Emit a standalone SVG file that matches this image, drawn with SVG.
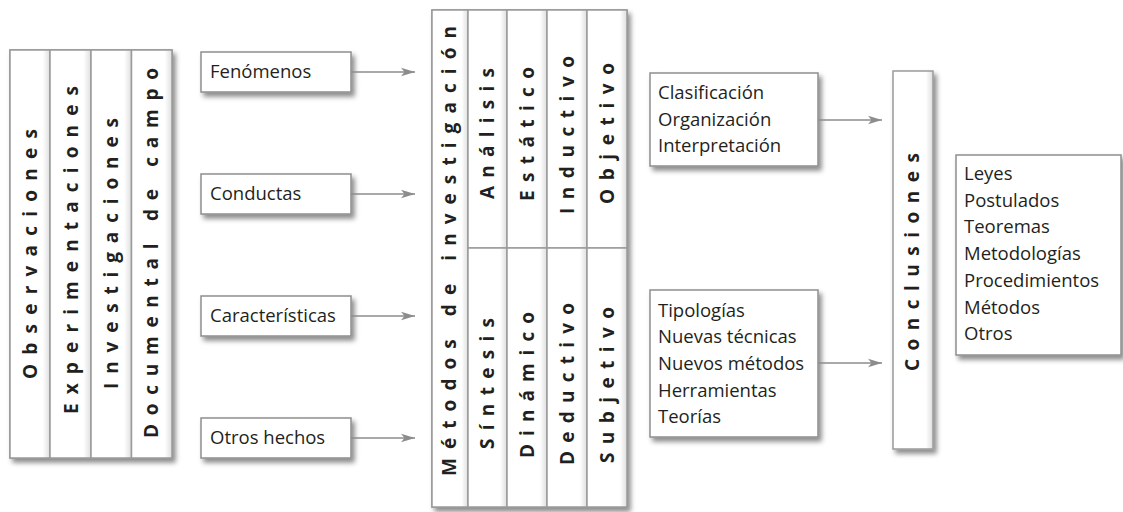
<svg xmlns="http://www.w3.org/2000/svg" width="1123" height="512" viewBox="0 0 1123 512">
<defs>
  <filter id="sh" x="-20%" y="-20%" width="150%" height="150%">
    <feDropShadow dx="3" dy="4" stdDeviation="2.5" flood-color="#000" flood-opacity="0.45"/>
  </filter>
  <linearGradient id="colg" x1="0" y1="0" x2="1" y2="0">
    <stop offset="0" stop-color="#ffffff"/>
    <stop offset="0.82" stop-color="#ffffff"/>
    <stop offset="1" stop-color="#dedede"/>
  </linearGradient>
  <marker id="ah" markerUnits="userSpaceOnUse" markerWidth="14" markerHeight="10" refX="14" refY="5" orient="auto">
    <path d="M0,0.8 L14,5 L0,9.2 L3.5,5 Z" fill="#8c8c8c"/>
  </marker>
</defs>
<style>
  .box { fill: #ffffff; stroke: #8e8e8e; stroke-width: 1.5; }
  .col { fill: url(#colg); stroke: #9a9a9a; stroke-width: 1.5; }
  .v { font-family: "Open Sans", "Liberation Sans", sans-serif; font-weight: 700; font-size: 19px; fill: #231f20; }
  .t { font-family: "Open Sans", "Liberation Sans", sans-serif; font-size: 18.5px; fill: #231f20; }
  .con line { stroke: #8c8c8c; stroke-width: 1.6; marker-end: url(#ah); }
</style>
<rect width="1123" height="512" fill="#ffffff"/>

<g id="fuentes">
  <g filter="url(#sh)">
    <rect class="box" x="10" y="50" width="162" height="408"/>
  </g>
  <rect class="col" x="10" y="50" width="40" height="408"/>
  <rect class="col" x="50" y="50" width="41" height="408"/>
  <rect class="col" x="91" y="50" width="40.5" height="408"/>
  <rect class="col" x="131.5" y="50" width="40.5" height="408"/>
  <text class="v" transform="translate(37,379) rotate(-90)" textLength="250" lengthAdjust="spacing">Observaciones</text>
  <text class="v" transform="translate(77.5,414) rotate(-90)" textLength="328" lengthAdjust="spacing">Experimentaciones</text>
  <text class="v" transform="translate(117.5,389) rotate(-90)" textLength="271" lengthAdjust="spacing">Investigaciones</text>
  <text class="v" transform="translate(157.5,438) rotate(-90)" textLength="370" lengthAdjust="spacing">Documental de campo</text>
</g>

<g id="fenomenos">
  <rect class="box" x="201" y="52" width="150" height="40" filter="url(#sh)"/>
  <text class="t" x="210" y="78">Fenómenos</text>
</g>
<g id="conductas">
  <rect class="box" x="201" y="174" width="150" height="40" filter="url(#sh)"/>
  <text class="t" x="210" y="200">Conductas</text>
</g>
<g id="caracteristicas">
  <rect class="box" x="201" y="296" width="150" height="40" filter="url(#sh)"/>
  <text class="t" x="210" y="322">Características</text>
</g>
<g id="otros-hechos">
  <rect class="box" x="201" y="418" width="150" height="40" filter="url(#sh)"/>
  <text class="t" x="210" y="444">Otros hechos</text>
</g>

<g id="metodos">
  <g filter="url(#sh)">
    <rect class="box" x="432" y="10" width="195" height="497"/>
  </g>
  <rect class="col" x="432" y="10" width="36" height="497"/>
  <rect class="col" x="468" y="10" width="39" height="238"/>
  <rect class="col" x="507" y="10" width="40" height="238"/>
  <rect class="col" x="547" y="10" width="40" height="238"/>
  <rect class="col" x="587" y="10" width="40" height="238"/>
  <rect class="col" x="468" y="248" width="39" height="259"/>
  <rect class="col" x="507" y="248" width="40" height="259"/>
  <rect class="col" x="547" y="248" width="40" height="259"/>
  <rect class="col" x="587" y="248" width="40" height="259"/>
  <text class="v" transform="translate(455.5,476) rotate(-90)" textLength="450" lengthAdjust="spacing">Métodos de investigación</text>
  <text class="v" transform="translate(494,199) rotate(-90)" textLength="131" lengthAdjust="spacing">Análisis</text>
  <text class="v" transform="translate(533.5,201) rotate(-90)" textLength="134" lengthAdjust="spacing">Estático</text>
  <text class="v" transform="translate(573.5,214) rotate(-90)" textLength="158" lengthAdjust="spacing">Inductivo</text>
  <text class="v" transform="translate(613.5,204) rotate(-90)" textLength="141" lengthAdjust="spacing">Objetivo</text>
  <text class="v" transform="translate(494,449) rotate(-90)" textLength="131" lengthAdjust="spacing">Síntesis</text>
  <text class="v" transform="translate(533.5,458) rotate(-90)" textLength="146" lengthAdjust="spacing">Dinámico</text>
  <text class="v" transform="translate(573.5,465) rotate(-90)" textLength="162" lengthAdjust="spacing">Deductivo</text>
  <text class="v" transform="translate(613.5,463) rotate(-90)" textLength="156" lengthAdjust="spacing">Subjetivo</text>
</g>

<g id="procesamiento">
  <rect class="box" x="650" y="73" width="168" height="93" filter="url(#sh)"/>
  <text class="t" x="658" y="99">Clasificación</text>
  <text class="t" x="658" y="125.7">Organización</text>
  <text class="t" x="658" y="152.4">Interpretación</text>
</g>

<g id="productos">
  <rect class="box" x="650" y="290" width="168" height="147" filter="url(#sh)"/>
  <text class="t" x="658" y="316.5">Tipologías</text>
  <text class="t" x="658" y="343.2">Nuevas técnicas</text>
  <text class="t" x="658" y="369.9">Nuevos métodos</text>
  <text class="t" x="658" y="396.6">Herramientas</text>
  <text class="t" x="658" y="423.3">Teorías</text>
</g>

<g id="conclusiones">
  <g filter="url(#sh)">
    <rect class="col" x="893" y="71" width="40" height="378"/>
  </g>
  <text class="v" transform="translate(918.5,371) rotate(-90)" textLength="218" lengthAdjust="spacing">Conclusiones</text>
</g>

<g id="resultados">
  <rect class="box" x="956" y="155" width="165" height="200" filter="url(#sh)"/>
  <text class="t" x="964" y="180">Leyes</text>
  <text class="t" x="964" y="206.7">Postulados</text>
  <text class="t" x="964" y="233.4">Teoremas</text>
  <text class="t" x="964" y="260.1">Metodologías</text>
  <text class="t" x="964" y="286.8">Procedimientos</text>
  <text class="t" x="964" y="313.5">Métodos</text>
  <text class="t" x="964" y="340.2">Otros</text>
</g>

<g id="conectores" class="con">
  <line x1="351" y1="72" x2="415" y2="72"/>
  <line x1="351" y1="194" x2="415" y2="194"/>
  <line x1="351" y1="316" x2="415" y2="316"/>
  <line x1="351" y1="438" x2="415" y2="438"/>
  <line x1="818" y1="120" x2="882" y2="120"/>
  <line x1="818" y1="363" x2="882" y2="363"/>
</g>
</svg>
